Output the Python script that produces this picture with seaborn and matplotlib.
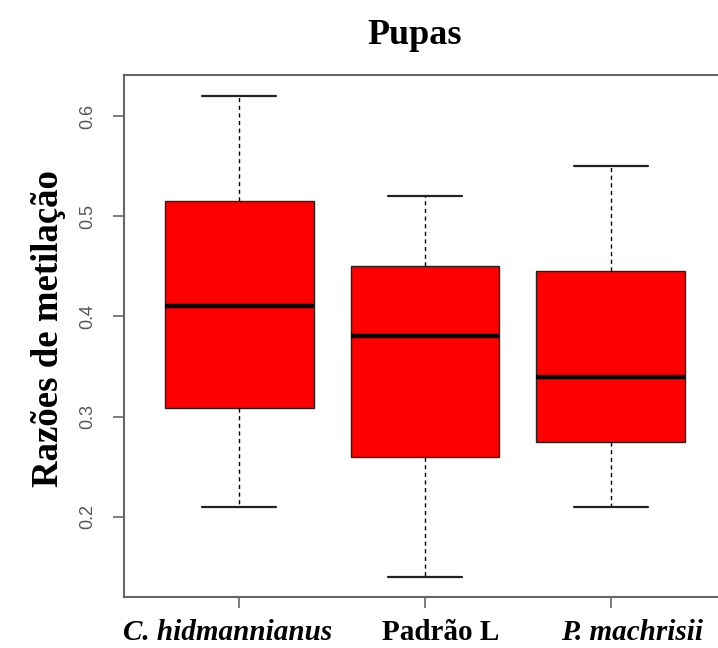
import matplotlib
matplotlib.use("Agg")
import matplotlib.pyplot as plt
from matplotlib.transforms import ScaledTranslation, blended_transform_factory
import seaborn as sns
import pandas as pd

# Five-number summaries (min, Q1, median, Q3, max) of the methylation ratios
groups = ["C. hidmannianus", "Padrão L", "P. machrisii"]
italic_groups = ["C. hidmannianus", "P. machrisii"]
hidmannianus = [0.21, 0.309, 0.41, 0.515, 0.62]
padrao_l = [0.14, 0.26, 0.38, 0.45, 0.52]
machrisii = [0.21, 0.275, 0.34, 0.445, 0.55]
y_ticks = [0.2, 0.3, 0.4, 0.5, 0.6]

df = pd.DataFrame({
    "grupo": [g for g, vals in zip(groups, [hidmannianus, padrao_l, machrisii]) for _ in vals],
    "razao": hidmannianus + padrao_l + machrisii,
})

sns.set_style("white")
plt.rcParams["font.family"] = ["Liberation Serif", "DejaVu Serif"]
plt.rcParams["text.color"] = "black"
plt.rcParams["axes.labelcolor"] = "black"
plt.rcParams["xtick.color"] = "#666666"
plt.rcParams["ytick.color"] = "#666666"

fig = plt.figure(figsize=(7.18, 6.48), dpi=100)
ax = fig.add_axes([0.1727, 0.0787, 0.8384, 0.8056])

sns.boxplot(
    data=df, x="grupo", y="razao", order=groups, ax=ax,
    width=0.8, whis=(0, 100), color="#ff0000", saturation=1,
    linecolor="black", linewidth=1.0,
    boxprops=dict(facecolor="#ff0000", edgecolor="#222222", linewidth=1.0),
    whiskerprops=dict(color="black", linestyle=(0, (3, 2.5)), linewidth=1.0),
    capprops=dict(color="#222222", linewidth=1.6),
    medianprops=dict(color="black", linewidth=3.2),
)

ax.set_xlim(-0.62, 2.62)
ax.set_ylim(0.120, 0.641)
ax.set_yticks(y_ticks)
ax.set_yticklabels([f"{v:.1f}" for v in y_ticks], rotation=90, va="center",
                   family=["Liberation Sans"], fontsize=13, color="#555555")
ax.set_xticks(range(len(groups)))
ax.set_xticklabels([])

# category names under the ticks, with slight horizontal nudges (points)
label_shift = [-8.6, 11.5, 15.0]
xtrans = blended_transform_factory(ax.transData, ax.transAxes)
for i, name in enumerate(groups):
    ax.text(i, 0, name, transform=xtrans + ScaledTranslation(label_shift[i] / 72, -31.2 / 72,
                                                                fig.dpi_scale_trans),
            ha="center", va="baseline", fontsize=21, fontweight="bold",
            fontstyle="italic" if name in italic_groups else "normal", color="black",
            clip_on=False)

for side in ["left", "bottom", "top", "right"]:
    ax.spines[side].set_color("#666666")
    ax.spines[side].set_linewidth(1.5)
    ax.spines[side].set_visible(True)

ax.tick_params(axis="y", direction="out", length=8, width=1.2, color="#666666", pad=12, left=True)
ax.tick_params(axis="x", direction="out", length=8, width=1.2, color="#666666", pad=10, bottom=True)

ax.set_xlabel("")
ax.set_ylabel("Razões de metilação", fontsize=26.5, fontweight="bold")
ax.yaxis.set_label_coords(-0.096, 0.515)
ax.set_title("Pupas", fontsize=26, fontweight="bold", pad=22, x=0.483)
ax.grid(False)

fig.savefig("out.png", dpi=100)
